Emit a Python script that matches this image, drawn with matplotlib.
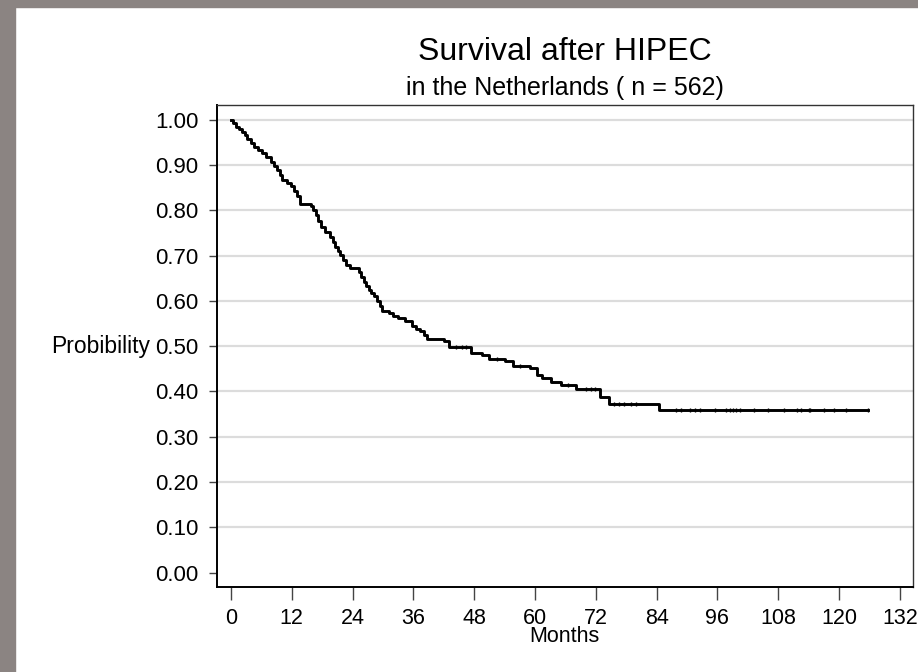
import matplotlib.pyplot as plt
from matplotlib.patches import Rectangle

plt.rcParams['font.family'] = ['Liberation Sans', 'DejaVu Sans']

# Kaplan-Meier steps (months, survival)
months = [0, 0.3, 0.9, 1.6, 2.2, 2.8, 3.2, 3.9, 4.5, 5.3, 6.2, 7.0, 7.8, 8.5,
          9.1, 9.6, 10.1, 11.0, 11.8, 12.5, 13.1, 13.7, 15.7, 16.2, 16.7, 17.2,
          17.7, 18.6, 19.6, 20.1, 20.6, 21.1, 21.6, 22.1, 22.6, 23.5, 25.2,
          25.7, 26.2, 26.7, 27.2, 27.7, 28.2, 28.9, 29.4, 29.8, 31.1, 32.0,
          33.0, 34.4, 35.8, 36.6, 37.4, 38.0, 38.7, 42.0, 43.0, 47.3, 49.5,
          51.0, 54.0, 55.7, 59.0, 60.3, 61.3, 63.2, 65.2, 68.0, 72.9, 74.7,
          84.4, 125.7]
surv = [1.000, 0.993, 0.985, 0.979, 0.974, 0.966, 0.957, 0.950, 0.941, 0.934,
        0.926, 0.917, 0.908, 0.899, 0.890, 0.879, 0.868, 0.861, 0.853, 0.842,
        0.831, 0.815, 0.810, 0.800, 0.790, 0.777, 0.764, 0.753, 0.742, 0.731,
        0.720, 0.711, 0.702, 0.691, 0.680, 0.672, 0.663, 0.653, 0.643, 0.634,
        0.625, 0.617, 0.610, 0.599, 0.588, 0.577, 0.573, 0.567, 0.562, 0.555,
        0.544, 0.539, 0.533, 0.524, 0.516, 0.511, 0.498, 0.484, 0.480, 0.472,
        0.467, 0.456, 0.451, 0.437, 0.429, 0.422, 0.414, 0.405, 0.387, 0.373,
        0.359, 0.359]

# censored observations
censored = [44.5, 45.5, 46.3, 52.5, 57.0, 66.5, 70.0, 71.0, 71.8, 75.6, 76.6,
            77.5, 78.9, 79.9, 87.9, 88.9, 90.5, 91.5, 92.5, 95.6, 97.6, 98.5,
            99.1, 99.7, 100.4, 103.3, 106.0, 109.1, 111.7, 112.4, 114.0, 114.3,
            117.0, 119.1, 121.4, 125.7]

xticks = list(range(0, 133, 12))
yticks = [0.0, 0.1, 0.2, 0.3, 0.4, 0.5, 0.6, 0.7, 0.8, 0.9, 1.0]


def surv_at(t):
    s = surv[0]
    for m, v in zip(months, surv):
        if m <= t:
            s = v
    return s


fig = plt.figure(figsize=(9.18, 6.72), dpi=100)
fig.patches.append(Rectangle((0, 0), 15 / 918, 1, transform=fig.transFigure,
                             color='#8b8482', zorder=0))
fig.patches.append(Rectangle((0, 1 - 7 / 672), 1, 7 / 672, transform=fig.transFigure,
                             color='#8b8482', zorder=0))

ax = fig.add_axes([216.5 / 918, 1 - 587 / 672, (913 - 216.5) / 918, (587 - 105) / 672])

for y in yticks[1:]:
    ax.axhline(y, color='#dcdcdc', lw=1.6, zorder=1)

ax.step(months, surv, where='post', color='black', lw=2.1, zorder=3)
ax.plot(censored, [surv_at(t) for t in censored], ls='none', marker='|',
        ms=3, mew=1, color='black', zorder=3)

ax.set_xlim(-2.86, 134.6)
ax.set_ylim(-0.032, 1.033)
ax.set_xticks(xticks)
ax.set_yticks(yticks)
ax.set_yticklabels([f'{v:.2f}' for v in yticks])
ax.tick_params(axis='x', length=9, width=1, color='#444444', pad=6,
               labelsize=15.5, direction='out')
ax.tick_params(axis='y', length=6, width=1, color='#444444', pad=7,
               labelsize=16, direction='out')

for side in ['left', 'bottom']:
    ax.spines[side].set_linewidth(1.4)
for side in ['top', 'right']:
    ax.spines[side].set_linewidth(1.0)
    ax.spines[side].set_color('#333333')

ax.set_xlabel('Months', fontsize=15.5, labelpad=-2)
ax.set_ylabel('Probibility', fontsize=16.5, rotation=0, ha='right', va='center')
ax.yaxis.set_label_coords(-0.095, (0.5 + 0.032) / 1.065)

fig.text(564.75 / 918, 1 - 60 / 672, 'Survival after HIPEC', ha='center',
         va='baseline', fontsize=23)
fig.text(564.75 / 918, 1 - 95 / 672, 'in the Netherlands ( n = 562)', ha='center',
         va='baseline', fontsize=18)

fig.savefig('out.png', dpi=100)
plt.close(fig)
